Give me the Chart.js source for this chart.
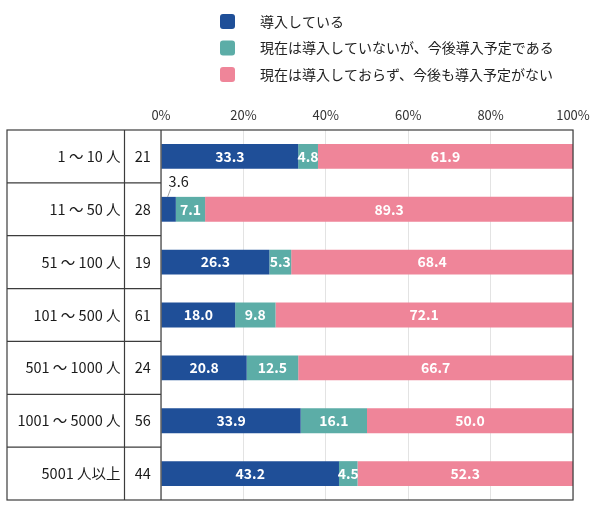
<!DOCTYPE html>
<html><head><meta charset="utf-8">
<script src="https://cdn.jsdelivr.net/npm/chart.js@4.4.1/dist/chart.umd.min.js"></script>
<style>html,body{margin:0;padding:0;background:#fff}</style>
</head><body>
<canvas id="c" width="590" height="523" style="width:590px;height:523px;display:block"></canvas>
<script>
const categories = ['1 ～ 10 人', '11 ～ 50 人', '51 ～ 100 人', '101 ～ 500 人', '501 ～ 1000 人', '1001 ～ 5000 人', '5001 人以上'];
const counts = [21, 28, 19, 61, 24, 56, 44];
const introduced = [33.3, 3.6, 26.3, 18.0, 20.8, 33.9, 43.2];
const planned = [4.8, 7.1, 5.3, 9.8, 12.5, 16.1, 4.5];
const notPlanned = [61.9, 89.3, 68.4, 72.1, 66.7, 50.0, 52.3];
const seriesNames = ['導入している', '現在は導入していないが、今後導入予定である', '現在は導入しておらず、今後も導入予定がない'];
const seriesColors = ['#1f4f98', '#5cada7', '#ef8599'];
const tickStep = 20;

const FONT = '"Noto Sans CJK JP", "Noto Sans", sans-serif';

const tablePlugin = {
  id: 'tableAndLegend',
  afterDraw(chart) {
    const ctx = chart.ctx, a = chart.chartArea, y = chart.scales.y;
    const left = 7, col = 124.5;
    ctx.save();
    // legend
    ctx.font = '14px ' + FONT;
    ctx.textBaseline = 'middle';
    ctx.textAlign = 'left';
    chart.data.datasets.forEach((ds, i) => {
      const cy = 21.5 + i * 26.5;
      ctx.fillStyle = ds.backgroundColor;
      ctx.beginPath();
      if (ctx.roundRect) ctx.roundRect(220, cy - 7.5, 15, 15, 3); else ctx.rect(220, cy - 7.5, 15, 15);
      ctx.fill();
      ctx.fillStyle = '#222';
      ctx.fillText(ds.label, 260, cy);
    });
    // table & frame
    ctx.strokeStyle = '#3c3c3c';
    ctx.lineWidth = 1.2;
    ctx.strokeRect(left, a.top, a.right - left, a.bottom - a.top);
    ctx.beginPath();
    ctx.moveTo(col, a.top); ctx.lineTo(col, a.bottom);
    ctx.moveTo(a.left, a.top); ctx.lineTo(a.left, a.bottom);
    const n = chart.data.labels.length;
    for (let i = 1; i < n; i++) {
      const yb = (y.getPixelForValue(i - 1) + y.getPixelForValue(i)) / 2;
      ctx.moveTo(left, yb); ctx.lineTo(a.left, yb);
    }
    ctx.stroke();
    ctx.fillStyle = '#1a1a1a';
    ctx.font = '14.5px ' + FONT;
    for (let i = 0; i < n; i++) {
      const cy = y.getPixelForValue(i);
      ctx.textAlign = 'right';
      ctx.fillText(chart.data.labels[i], col - 4, cy);
      ctx.textAlign = 'center';
      ctx.fillText(String(counts[i]), (col + a.left) / 2, cy);
    }
    ctx.restore();
  },
  afterDatasetsDraw(chart) {
    const ctx = chart.ctx;
    ctx.save();
    ctx.textBaseline = 'middle';
    ctx.textAlign = 'center';
    chart.data.datasets.forEach((ds, di) => {
      const meta = chart.getDatasetMeta(di);
      meta.data.forEach((el, i) => {
        const v = ds.data[i];
        const p = el.getProps(['x', 'base', 'y', 'height'], true);
        const cx = (p.x + p.base) / 2;
        const txt = v.toFixed(1);
        if (v < 4) {
          const top = p.y - p.height / 2;
          ctx.strokeStyle = '#888';
          ctx.lineWidth = 0.8;
          ctx.beginPath();
          ctx.moveTo(cx - 1, top); ctx.lineTo(cx + 2, top - 8);
          ctx.stroke();
          ctx.fillStyle = '#1a1a1a';
          ctx.font = '14.5px ' + FONT;
          ctx.fillText(txt, cx + 10, top - 15);
        } else {
          ctx.fillStyle = '#ffffff';
          ctx.font = 'bold 14px ' + FONT;
          ctx.fillText(txt, cx, p.y);
        }
      });
    });
    ctx.restore();
  }
};

new Chart(document.getElementById('c'), {
  type: 'bar',
  data: {
    labels: categories,
    datasets: [
      { label: seriesNames[0], data: introduced, backgroundColor: seriesColors[0] },
      { label: seriesNames[1], data: planned, backgroundColor: seriesColors[1] },
      { label: seriesNames[2], data: notPlanned, backgroundColor: seriesColors[2] }
    ]
  },
  options: {
    indexAxis: 'y',
    responsive: false,
    animation: false,
    devicePixelRatio: 1,
    layout: { padding: { left: 161, right: 17, top: 100, bottom: 23 } },
    datasets: { bar: { categoryPercentage: 1, barPercentage: 0.47, borderWidth: 0 } },
    plugins: { legend: { display: false }, tooltip: { enabled: false } },
    scales: {
      x: {
        position: 'top', stacked: true, min: 0, max: 100,
        afterFit(s) { s.height = 30; s.paddingLeft = 0; s.paddingRight = 0; },
        border: { display: false },
        grid: { color: '#e3e3e3', lineWidth: 1, drawTicks: false },
        ticks: { stepSize: tickStep, padding: 7, color: '#333', font: { family: FONT, size: 13 }, callback: v => v + '%' }
      },
      y: { stacked: true, display: false }
    }
  },
  plugins: [tablePlugin]
});
</script>
</body></html>
